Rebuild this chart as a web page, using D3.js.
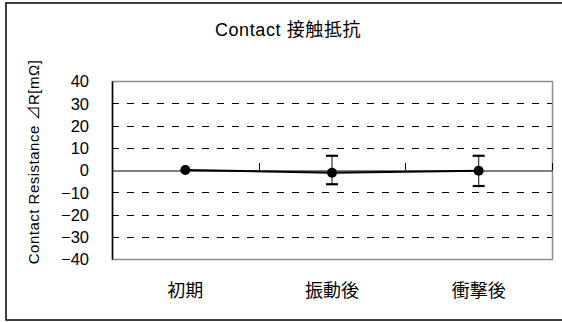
<!DOCTYPE html>
<html>
<head>
<meta charset="utf-8">
<script src="https://cdn.jsdelivr.net/npm/d3@7"></script>
<style>
  html, body { margin: 0; padding: 0; background: #fff; }
  svg { display: block; }
  text { font-family: "Liberation Sans", "Noto Sans CJK JP", sans-serif; fill: #000; }
</style>
</head>
<body>
<script>
// Contact resistance change after each test stage
const categories = ["初期", "振動後", "衝撃後"];
const meanValues = [0, -1.2, -0.3];
const errPlus = [0, 7.6, 6.7];
const errMinus = [0, 5.2, 6.9];
const yTicks = [40, 30, 20, 10, 0, -10, -20, -30, -40];
const yDomain = [-40, 40];
const titleText = "Contact 接触抵抗";
const yLabelText = "Contact Resistance ⊿R[mΩ]";

const W = 562, H = 322;
const plot = { left: 112, right: 552, top: 81, bottom: 259 };

const svg = d3.select("body").append("svg")
  .attr("width", W).attr("height", H);

// outer chart frame
svg.append("rect")
  .attr("x", 6).attr("y", 3)
  .attr("width", W + 10).attr("height", 317)
  .attr("fill", "none").attr("stroke", "#000").attr("stroke-width", 1.5);

const x = d3.scaleBand().domain(categories)
  .range([plot.left, plot.right]).padding(0);
const y = d3.scaleLinear().domain(yDomain)
  .range([plot.bottom, plot.top]);

// dashed gridlines
svg.append("g").selectAll("line")
  .data(yTicks.filter(v => v !== 0 && v !== 40 && v !== -40))
  .join("line")
  .attr("x1", plot.left).attr("x2", plot.right)
  .attr("y1", d => Math.round(y(d)) + 0.5).attr("y2", d => Math.round(y(d)) + 0.5)
  .attr("stroke", "#000").attr("stroke-width", 1)
  .attr("stroke-dasharray", "7,8");

// plot area border
svg.append("rect")
  .attr("x", plot.left + 0.5).attr("y", plot.top + 0.5)
  .attr("width", plot.right - plot.left).attr("height", plot.bottom - plot.top)
  .attr("fill", "none").attr("stroke", "#8c8c8c").attr("stroke-width", 1.5);

// value axis
const yAxis = d3.axisLeft(y).tickValues(yTicks).tickSize(0)
  .tickFormat(d => d < 0 ? "\u2212" + Math.abs(d) : d);
const gy = svg.append("g").attr("transform", `translate(${plot.left},0)`).call(yAxis);
gy.select(".domain").attr("stroke", "#000").attr("stroke-width", 1.5);
gy.selectAll("text")
  .attr("x", -23).attr("dy", "0.36em")
  .style("font-size", "16.5px");

// category axis crossing at zero
const xAxis = d3.axisTop(x).tickSize(0).tickFormat("");
const gx = svg.append("g").attr("transform", `translate(0,${Math.round(y(0)) + 0.5})`).call(xAxis);
gx.select(".domain").attr("stroke", "#000").attr("stroke-width", 1);
gx.selectAll(".tick").remove();
const boundaries = categories.slice(1).map(c => x(c)).concat([plot.right]);
svg.append("g").selectAll("line").data(boundaries).join("line")
  .attr("x1", d => Math.round(d) + 0.5).attr("x2", d => Math.round(d) + 0.5)
  .attr("y1", y(0) - 7).attr("y2", y(0))
  .attr("stroke", "#000").attr("stroke-width", 1);

// category labels below plot
svg.append("g").selectAll("text").data(categories).join("text")
  .attr("x", d => x(d) + x.bandwidth() / 2)
  .attr("y", 297)
  .attr("text-anchor", "middle")
  .style("font-size", "18px")
  .text(d => d);

const pts = categories.map((c, i) => ({
  cx: x(c) + x.bandwidth() / 2, v: meanValues[i], hi: meanValues[i] + errPlus[i], lo: meanValues[i] - errMinus[i]
}));

// error bars
const eb = svg.append("g").selectAll("g").data(pts.filter(d => d.hi !== d.lo)).join("g");
eb.append("line")
  .attr("x1", d => d.cx).attr("x2", d => d.cx)
  .attr("y1", d => y(d.hi)).attr("y2", d => y(d.lo))
  .attr("stroke", "#333").attr("stroke-width", 1.2);
eb.selectAll("line.cap").data(d => [{ cx: d.cx, v: d.hi }, { cx: d.cx, v: d.lo }])
  .join("line").attr("class", "cap")
  .attr("x1", d => d.cx - 6).attr("x2", d => d.cx + 6)
  .attr("y1", d => y(d.v)).attr("y2", d => y(d.v))
  .attr("stroke", "#000").attr("stroke-width", 2.2);

// series line
svg.append("path").datum(pts)
  .attr("d", d3.line().x(d => d.cx).y(d => y(d.v)))
  .attr("fill", "none").attr("stroke", "#000").attr("stroke-width", 2);

// markers
svg.append("g").selectAll("circle").data(pts).join("circle")
  .attr("cx", d => d.cx).attr("cy", d => y(d.v)).attr("r", 5)
  .attr("fill", "#000");

// title
svg.append("text")
  .attr("x", 288).attr("y", 36)
  .attr("text-anchor", "middle")
  .style("font-size", "18px")
  .style("letter-spacing", "0.6px")
  .text(titleText);

// y axis title
svg.append("text")
  .attr("transform", `translate(39,${(plot.top + plot.bottom) / 2 - 8}) rotate(-90)`)
  .attr("text-anchor", "middle")
  .style("font-size", "15px")
  .style("letter-spacing", "0.5px")
  .text(yLabelText);
</script>
</body>
</html>
